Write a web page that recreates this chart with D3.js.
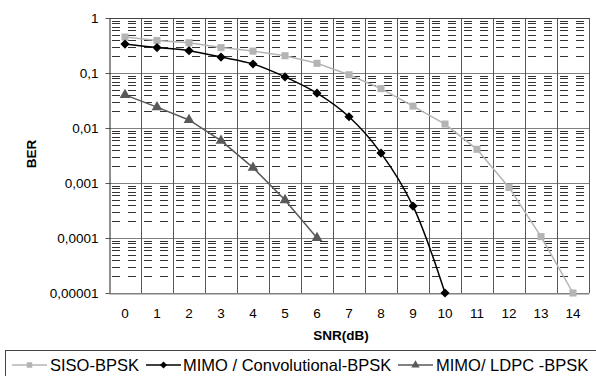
<!DOCTYPE html>
<html>
<head>
<meta charset="utf-8">
<script src="https://cdn.jsdelivr.net/npm/d3@7"></script>
<style>
  body { margin: 0; background: #fff; }
  text { font-family: "Liberation Sans", Arial, sans-serif; }
</style>
</head>
<body>
<div id="chart"></div>
<script>
// SNR values (dB) and BER per series
const snr = [0, 1, 2, 3, 4, 5, 6, 7, 8, 9, 10, 11, 12, 13, 14];
const sisoBer = [0.45, 0.39, 0.355, 0.29, 0.25, 0.206, 0.15, 0.093, 0.052, 0.025, 0.0118, 0.0041, 0.00083, 0.000106, 0.00001];
const convBer = [0.336, 0.29, 0.255, 0.195, 0.146, 0.085, 0.043, 0.016, 0.0035, 0.00038, 0.00001];
const ldpcBer = [0.04, 0.024, 0.014, 0.0059, 0.0019, 0.00049, 0.0001];
const yTicks = [1, 0.1, 0.01, 0.001, 0.0001, 0.00001];
const yTickLabels = ["1", "0,1", "0,01", "0,001", "0,0001", "0,00001"];

const width = 596, height = 376;
const margin = { top: 18, right: 7, bottom: 83, left: 109 };

const svg = d3.select('#chart')
  .append('svg')
  .attr('width', width)
  .attr('height', height);

const x = d3.scaleBand()
  .domain(snr)
  .range([margin.left, width - margin.right])
  .padding(0);

const y = d3.scaleLog()
  .domain([0.00001, 1])
  .range([height - margin.bottom, margin.top]);

const x0 = margin.left, x1 = width - margin.right;
const yTop = margin.top, yBot = height - margin.bottom;

// minor dashed gridlines (2..9 per decade)
const minor = [];
yTicks.slice(0, -1).forEach(t => {
  for (let k = 2; k <= 9; k++) minor.push(t / 10 * k);
});
svg.append('g')
  .selectAll('line')
  .data(minor)
  .enter()
  .append('line')
  .attr('x1', x0 + 1)
  .attr('x2', x1)
  .attr('y1', d => Math.round(y(d)) + 0.5)
  .attr('y2', d => Math.round(y(d)) + 0.5)
  .attr('stroke', '#333')
  .attr('stroke-width', 1)
  .attr('stroke-dasharray', '8,8')
  .attr('stroke-dashoffset', -2);

// major horizontal gridlines
svg.append('g')
  .selectAll('line')
  .data(yTicks)
  .enter()
  .append('line')
  .attr('x1', x0)
  .attr('x2', x1)
  .attr('y1', d => Math.round(y(d)) + 0.5)
  .attr('y2', d => Math.round(y(d)) + 0.5)
  .attr('stroke', '#808080')
  .attr('stroke-width', 1);

// vertical gridlines at category boundaries
svg.append('g')
  .selectAll('line')
  .data(snr.slice(1).map(d => x(d)).concat([x1]))
  .enter()
  .append('line')
  .attr('x1', d => Math.round(d) + 0.5)
  .attr('x2', d => Math.round(d) + 0.5)
  .attr('y1', yTop)
  .attr('y2', yBot)
  .attr('stroke', '#555')
  .attr('stroke-width', 1);

// top border
svg.append('line')
  .attr('x1', x0).attr('x2', x1)
  .attr('y1', yTop + 0.5).attr('y2', yTop + 0.5)
  .attr('stroke', '#444');

// y axis
const yAxis = d3.axisLeft(y)
  .tickValues(yTicks)
  .tickFormat((d, i) => yTickLabels[i])
  .tickSizeInner(4)
  .tickSizeOuter(0)
  .tickPadding(7);
const gy = svg.append('g')
  .attr('transform', `translate(${x0 + 0.5},0)`)
  .call(yAxis);
gy.select('.domain').attr('stroke', '#222');
gy.selectAll('.tick line').attr('stroke', '#555');
gy.selectAll('.tick text')
  .attr('font-size', 13.5)
  .attr('fill', '#000')
  .style('font-family', '"Liberation Sans", Arial, sans-serif');

// x axis
const xAxis = d3.axisBottom(x)
  .tickSize(0)
  .tickPadding(15);
const gx = svg.append('g')
  .attr('transform', `translate(0,${yBot + 0.5})`)
  .call(xAxis);
gx.select('.domain').attr('stroke', '#808080');
gx.selectAll('.tick text')
  .attr('font-size', 13.5)
  .attr('fill', '#000')
  .style('font-family', '"Liberation Sans", Arial, sans-serif');

// axis titles
svg.append('text')
  .attr('transform', `translate(36,154) rotate(-90)`)
  .attr('text-anchor', 'middle')
  .attr('font-size', 13.5)
  .attr('font-weight', 'bold')
  .text('BER');

svg.append('text')
  .attr('x', 341)
  .attr('y', 340)
  .attr('text-anchor', 'middle')
  .attr('font-size', 13.5)
  .attr('font-weight', 'bold')
  .text('SNR(dB)');

// series
const cx = d => x(d) + x.bandwidth() / 2;
const series = [
  { name: 'SISO-BPSK', values: sisoBer, color: '#b4b4b4', marker: d3.symbolSquare, size: 50, rot: 0, curve: d3.curveLinear },
  { name: 'MIMO / Convolutional-BPSK', values: convBer, color: '#000000', marker: d3.symbolSquare, size: 42, rot: 45, curve: d3.curveCatmullRom },
  { name: 'MIMO/ LDPC -BPSK', values: ldpcBer, color: '#595959', marker: d3.symbolTriangle, size: 50, rot: 0, curve: d3.curveLinear }
];

series.forEach(s => {
  const pts = s.values.map((v, i) => [snr[i], v]);
  const line = d3.line()
    .x(d => cx(d[0]))
    .y(d => y(d[1]))
    .curve(s.curve);
  svg.append('path')
    .datum(pts)
    .attr('fill', 'none')
    .attr('stroke', s.color)
    .attr('stroke-width', 1.5)
    .attr('d', line);
  svg.append('g')
    .selectAll('path')
    .data(pts)
    .enter()
    .append('path')
    .attr('transform', d => `translate(${cx(d[0])},${y(d[1])}) rotate(${s.rot})`)
    .attr('d', d3.symbol().type(s.marker).size(s.size))
    .attr('fill', s.color);
});

// legend
svg.append('rect')
  .attr('x', 5.5)
  .attr('y', 350.5)
  .attr('width', 620)
  .attr('height', 60)
  .attr('fill', 'none')
  .attr('stroke', '#444');

const legendItems = [
  { s: series[0], lx1: 12, lx2: 47, tx: 50 },
  { s: series[1], lx1: 146, lx2: 181, tx: 183 },
  { s: series[2], lx1: 398, lx2: 433, tx: 436 }
];
const ly = 365;
legendItems.forEach(it => {
  svg.append('line')
    .attr('x1', it.lx1).attr('x2', it.lx2)
    .attr('y1', ly).attr('y2', ly)
    .attr('stroke', it.s.color)
    .attr('stroke-width', 1.5);
  svg.append('path')
    .attr('transform', `translate(${(it.lx1 + it.lx2) / 2},${ly}) rotate(${it.s.rot})`)
    .attr('d', d3.symbol().type(it.s.marker).size(it.s.size * 0.6))
    .attr('fill', it.s.color);
  svg.append('text')
    .attr('x', it.tx)
    .attr('y', ly + 6)
    .attr('font-size', 16.5)
    .text(it.s.name);
});
</script>
</body>
</html>
